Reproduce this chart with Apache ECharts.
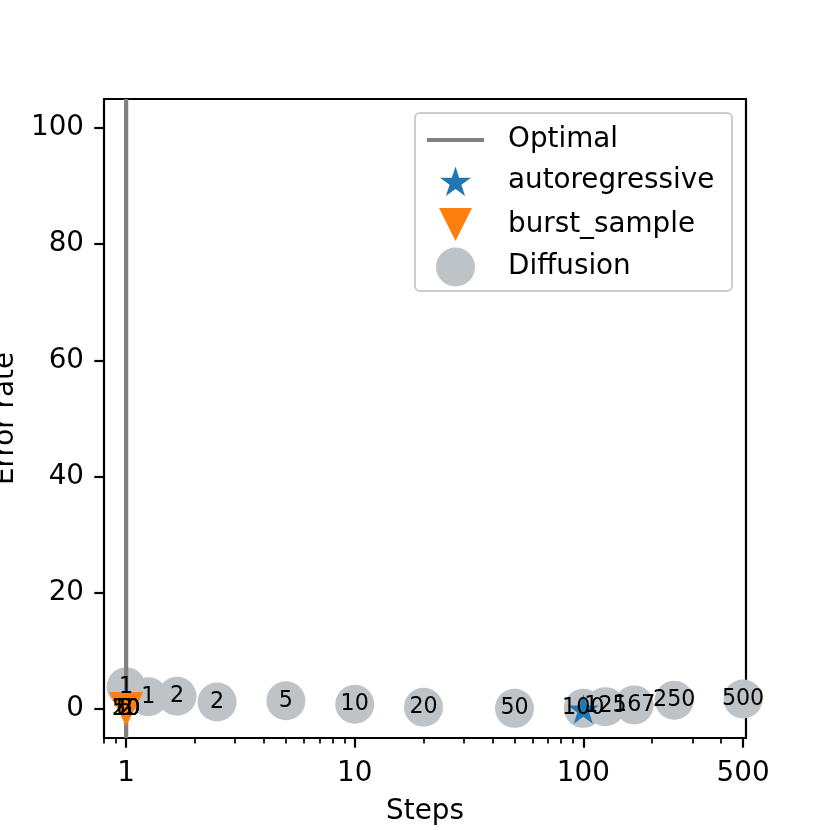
<!DOCTYPE html>
<html>
<head>
<meta charset="utf-8">
<script src="https://cdn.jsdelivr.net/npm/echarts@6/dist/echarts.min.js"></script>
<style>
html,body{margin:0;padding:0;background:#fff;}
#chart{width:830px;height:830px;}
</style>
</head>
<body>
<div id="chart"></div>
<script>
// ---- data ----
var optimalStep = 1;
var diffusionSteps  = [1, 1.25, 1.67, 2.5, 5, 10, 20, 50, 100, 125, 167, 250, 500];
var diffusionErrors = [3.8, 2.1, 2.2, 1.2, 1.4, 0.8, 0.3, 0.1, 0.1, 0.4, 0.7, 1.5, 1.7];
var diffusionLabels = ["1", "1", "2", "2", "5", "10", "20", "50", "100", "125", "167", "250", "500"];
var autoregSteps  = [100];
var autoregErrors = [0];
var burstSteps  = [1, 1, 1, 1, 1];
var burstErrors = [0, 0, 0, 0, 0];
var burstLabels = ["2", "5", "10", "20", "50"];
var xTickValues = [1, 10, 100, 500];
var xMinorTickValues = [0.8, 0.9, 2, 3, 4, 5, 6, 7, 8, 9, 20, 30, 40, 50, 60, 70, 80, 90, 200, 300, 400];
var yTickValues = [0, 20, 40, 60, 80, 100];

var FONT = 'DejaVu Sans';
function pts(xs, ys) { return xs.map(function (x, i) { return [x, ys[i]]; }); }
function labeled(xs, ys, ls) { return xs.map(function (x, i) { return { value: [x, ys[i]], name: ls[i] }; }); }

// matplotlib-like marker shapes
function starPath() {
  var p = [], ri = 0.381966;
  for (var k = 0; k < 10; k++) {
    var r = (k % 2 === 0) ? 1 : ri;
    var a = Math.PI / 2 + k * Math.PI / 5;
    p.push((r * Math.cos(a)).toFixed(4) + ',' + (-r * Math.sin(a)).toFixed(4));
  }
  return 'path://M' + p.join(' L') + ' Z';
}
var STAR = starPath();
var TRI_DOWN = 'path://M-1,-1 L1,-1 L0,1 Z';
var LINE_ICON = 'path://M0,0 L57,0 L57,4.2 L0,4.2 Z';

var chart = echarts.init(document.getElementById('chart'), null, { renderer: 'canvas' });

var xCommon = { type: 'log', logBase: 10, min: 0.8, max: 515, gridIndex: 0 };

function legendRow(name, icon, w, h, centerY) {
  return {
    data: [{ name: name, icon: icon }],
    left: 455.5 - w / 2, top: centerY - h / 2, itemWidth: w, itemHeight: h,
    orient: 'vertical', padding: 0, z: 10, selectedMode: false, symbolKeepAspect: true,
    textStyle: { fontFamily: FONT, fontSize: 27.8, color: '#000', padding: [0, 0, 0, 47.5 - w / 2] }
  };
}

var labelStyle = {
  show: true, position: 'inside', formatter: '{b}', fontFamily: FONT, fontSize: 22.2,
  color: '#000000', opacity: 1, textBorderWidth: 0, textShadowBlur: 0
};

var option = {
  animation: false,
  backgroundColor: '#ffffff',
  grid: { left: 104, top: 99, right: 84, bottom: 92, containLabel: false, outerBoundsMode: 'none' },
  xAxis: [
    Object.assign({}, xCommon, {
      position: 'bottom',
      name: 'Steps', nameLocation: 'middle', nameGap: 60,
      nameTextStyle: { fontFamily: FONT, fontSize: 27.8, color: '#000' },
      axisLine: { show: true, onZero: false, lineStyle: { color: '#000', width: 2.2 } },
      axisTick: { show: true, inside: false, length: 9.7, lineStyle: { color: '#000', width: 2.2 }, customValues: xTickValues },
      axisLabel: { show: true, margin: 22, fontFamily: FONT, fontSize: 27.8, color: '#000', customValues: xTickValues,
        formatter: function (v) { return String(Math.round(v)); } },
      splitLine: { show: false }, minorTick: { show: false }, minorSplitLine: { show: false }
    }),
    Object.assign({}, xCommon, {
      position: 'bottom',
      axisLine: { show: false, onZero: false },
      axisTick: { show: true, inside: false, length: 5.5, lineStyle: { color: '#000', width: 1.7 }, customValues: xMinorTickValues },
      axisLabel: { show: false },
      splitLine: { show: false }
    }),
    Object.assign({}, xCommon, {
      position: 'top',
      axisLine: { show: true, onZero: false, lineStyle: { color: '#000', width: 2.2 } },
      axisTick: { show: false }, axisLabel: { show: false }, splitLine: { show: false }
    })
  ],
  yAxis: [
    {
      type: 'value', min: -5, max: 105, position: 'left',
      name: 'Error rate', nameLocation: 'middle', nameRotate: 90, nameGap: 84,
      nameTextStyle: { fontFamily: FONT, fontSize: 27.8, color: '#000' },
      axisLine: { show: true, onZero: false, lineStyle: { color: '#000', width: 2.2 } },
      axisTick: { show: true, inside: false, length: 9.7, lineStyle: { color: '#000', width: 2.2 }, customValues: yTickValues },
      axisLabel: { show: true, margin: 20, fontFamily: FONT, fontSize: 27.8, color: '#000', customValues: yTickValues,
        padding: [4, 0, 0, 0] },
      splitLine: { show: false }
    },
    {
      type: 'value', min: -5, max: 105, position: 'right',
      axisLine: { show: true, onZero: false, lineStyle: { color: '#000', width: 2.2 } },
      axisTick: { show: false }, axisLabel: { show: false }, splitLine: { show: false }
    }
  ],
  legend: [
    legendRow('Optimal', LINE_ICON, 57, 20, 136),
    legendRow('autoregressive', STAR, 31, 31, 182),
    legendRow('burst_sample', TRI_DOWN, 33, 33, 224.5),
    legendRow('Diffusion', 'circle', 39, 39, 267)
  ],
  graphic: [{
    type: 'rect', z: 5, silent: true,
    shape: { x: 415, y: 113, width: 317, height: 178, r: 5 },
    style: { fill: 'rgba(255,255,255,0.8)', stroke: '#cccccc', lineWidth: 2 }
  }],
  series: [
    {
      name: 'Diffusion', type: 'scatter', xAxisIndex: 0, yAxisIndex: 0, z: 2,
      data: pts(diffusionSteps, diffusionErrors),
      symbol: 'circle', symbolSize: 39,
      itemStyle: { color: '#bdc3c7', opacity: 1 }
    },
    {
      name: 'Optimal', type: 'line', xAxisIndex: 0, yAxisIndex: 0, z: 3,
      data: [[optimalStep, -5], [optimalStep, 105]],
      symbol: 'none', showSymbol: false,
      lineStyle: { color: '#808080', width: 4.2 },
      itemStyle: { color: '#808080' }
    },
    {
      name: 'autoregressive', type: 'scatter', xAxisIndex: 0, yAxisIndex: 0, z: 4,
      data: pts(autoregSteps, autoregErrors),
      symbol: STAR, symbolSize: 31, symbolKeepAspect: true,
      itemStyle: { color: '#1f77b4', opacity: 1 }
    },
    {
      name: 'burst_sample', type: 'scatter', xAxisIndex: 0, yAxisIndex: 0, z: 5,
      data: pts(burstSteps, burstErrors),
      symbol: TRI_DOWN, symbolSize: 33,
      itemStyle: { color: '#ff7f0e', opacity: 1 }
    },
    {
      name: 'diffusion-labels', type: 'scatter', xAxisIndex: 0, yAxisIndex: 0, z: 6,
      data: labeled(diffusionSteps, diffusionErrors, diffusionLabels),
      symbol: 'circle', symbolSize: 0.01, itemStyle: { color: '#000000', opacity: 1 }, silent: true,
      label: labelStyle,
      labelLayout: { hideOverlap: false }
    },
    {
      name: 'burst-labels', type: 'scatter', xAxisIndex: 0, yAxisIndex: 0, z: 7,
      data: labeled(burstSteps, burstErrors, burstLabels),
      symbol: 'circle', symbolSize: 0.01, itemStyle: { color: '#000000', opacity: 1 }, silent: true,
      label: labelStyle,
      labelLayout: { hideOverlap: false }
    }
  ]
};
chart.setOption(option);
</script>
</body>
</html>
